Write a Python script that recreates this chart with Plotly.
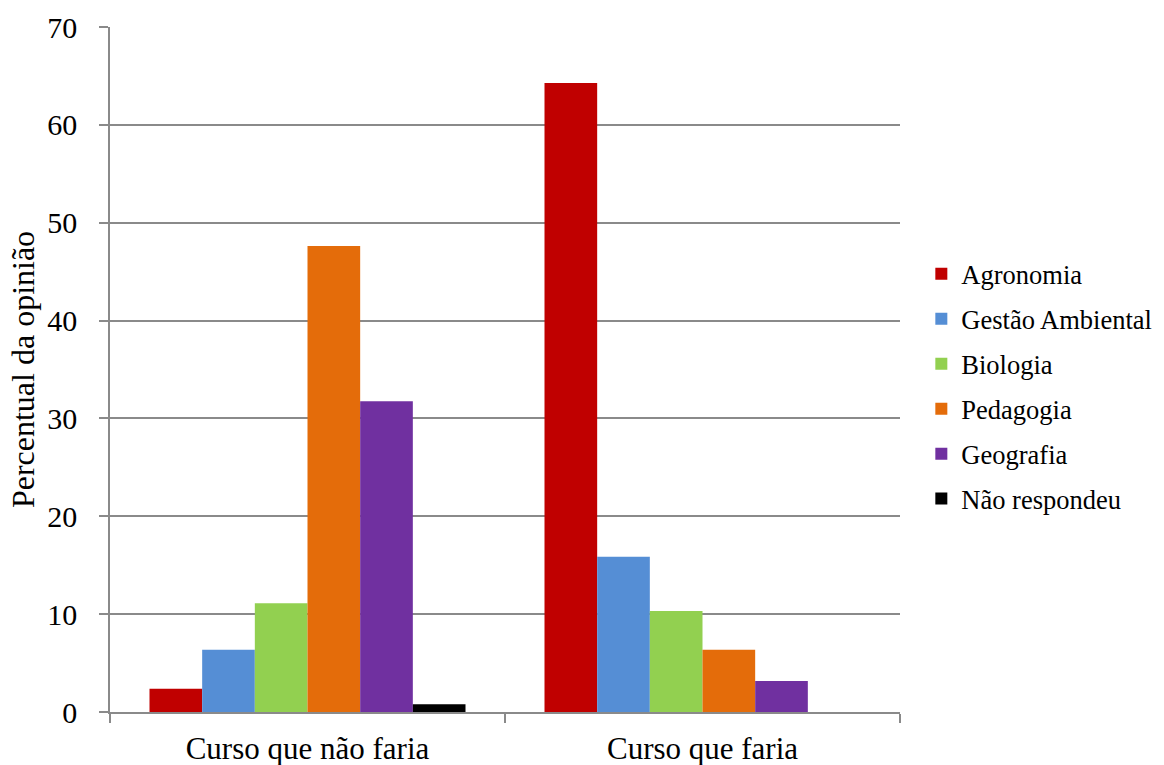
import plotly.graph_objects as go

categories = ["Curso que não faria", "Curso que faria"]
series_names = ["Agronomia", "Gestão Ambiental", "Biologia", "Pedagogia", "Geografia", "Não respondeu"]
agronomia = [2.38, 64.29]
gestao = [6.35, 15.87]
biologia = [11.11, 10.32]
pedagogia = [47.62, 6.35]
geografia = [31.75, 3.17]
nao_respondeu = [0.79, 0.0]
colors = ["#C00000", "#558ED5", "#92D050", "#E46C0A", "#7030A0", "#000000"]
y_ticks = [0, 10, 20, 30, 40, 50, 60, 70]

series_values = [agronomia, gestao, biologia, pedagogia, geografia, nao_respondeu]

fig = go.Figure()
for name, vals, col in zip(series_names, series_values, colors):
    fig.add_trace(go.Bar(
        x=categories, y=vals, name=name, legendgroup=name,
        marker=dict(color=col, line=dict(width=0)),
    ))

FONT = "Liberation Serif"
grid_col = "#8a8a8a"

fig.update_layout(
    width=1164, height=765,
    margin=dict(l=110, r=264, t=27, b=53, pad=0, autoexpand=False),
    paper_bgcolor="white", plot_bgcolor="white",
    barmode="group", bargap=0.2, bargroupgap=0,
    font=dict(family=FONT, color="black", size=26),
    showlegend=True,
    legend=dict(
        x=1.027, xanchor="left", xref="paper",
        y=0.475, yanchor="middle",
        font=dict(family=FONT, size=26.5, color="black"),
        tracegroupgap=7.5, traceorder="grouped",
        bgcolor="rgba(0,0,0,0)", borderwidth=0,
    ),
    xaxis=dict(
        type="category", tickson="boundaries", ticks="outside", ticklen=9,
        tickcolor=grid_col, tickwidth=1.5,
        showline=True, linecolor=grid_col, linewidth=1.5,
        showgrid=False, zeroline=False, automargin=False,
        tickfont=dict(family=FONT, size=31, color="black"),
        ticklabelstandoff=8,
    ),
    yaxis=dict(
        range=[0, 70], tickvals=y_ticks, ticks="outside", ticklen=9,
        tickcolor=grid_col, tickwidth=1.5,
        showline=True, linecolor=grid_col, linewidth=1.5,
        showgrid=True, gridcolor=grid_col, gridwidth=1.5,
        zeroline=False, automargin=False,
        tickfont=dict(family=FONT, size=30, color="black"),
        ticklabelstandoff=16,
        title=dict(text="Percentual da opinião", font=dict(family=FONT, size=32, color="black"), standoff=3),
    ),
)

fig.write_html("out.html")
